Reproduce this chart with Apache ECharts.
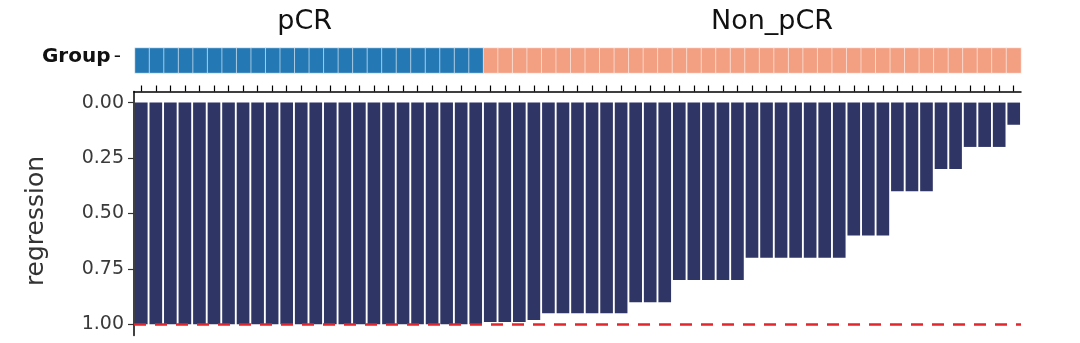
<!DOCTYPE html>
<html><head><meta charset="utf-8">
<script src="https://cdn.jsdelivr.net/npm/echarts@6/dist/echarts.min.js"></script>
<style>html,body{margin:0;padding:0;background:#fff}#c{width:1080px;height:343px}</style>
</head><body><div id="c"></div>
<script>
const samples = ['S01','S02','S03','S04','S05','S06','S07','S08','S09','S10',
  'S11','S12','S13','S14','S15','S16','S17','S18','S19','S20',
  'S21','S22','S23','S24','S25','S26','S27','S28','S29','S30',
  'S31','S32','S33','S34','S35','S36','S37','S38','S39','S40',
  'S41','S42','S43','S44','S45','S46','S47','S48','S49','S50',
  'S51','S52','S53','S54','S55','S56','S57','S58','S59','S60','S61'];
const groups = ['pCR','pCR','pCR','pCR','pCR','pCR','pCR','pCR','pCR','pCR',
  'pCR','pCR','pCR','pCR','pCR','pCR','pCR','pCR','pCR','pCR',
  'pCR','pCR','pCR','pCR',
  'Non_pCR','Non_pCR','Non_pCR','Non_pCR','Non_pCR','Non_pCR','Non_pCR','Non_pCR','Non_pCR','Non_pCR',
  'Non_pCR','Non_pCR','Non_pCR','Non_pCR','Non_pCR','Non_pCR','Non_pCR','Non_pCR','Non_pCR','Non_pCR',
  'Non_pCR','Non_pCR','Non_pCR','Non_pCR','Non_pCR','Non_pCR','Non_pCR','Non_pCR','Non_pCR','Non_pCR',
  'Non_pCR','Non_pCR','Non_pCR','Non_pCR','Non_pCR','Non_pCR','Non_pCR'];
const regression = [1,1,1,1,1,1,1,1,1,1,
  1,1,1,1,1,1,1,1,1,1,
  1,1,1,1,
  0.99,0.99,0.99,0.98,
  0.95,0.95,0.95,0.95,0.95,0.95,
  0.9,0.9,0.9,
  0.8,0.8,0.8,0.8,0.8,
  0.7,0.7,0.7,0.7,0.7,0.7,0.7,
  0.6,0.6,0.6,
  0.4,0.4,0.4,
  0.3,0.3,
  0.2,0.2,0.2,
  0.1];
const yTicks = [0, 0.25, 0.5, 0.75, 1];
const groupNames = ['pCR', 'Non_pCR'];
const groupColors = ['#2479B5', '#F29F82'];
const cutoff = 1;

const chart = echarts.init(document.getElementById('c'), null, {renderer: 'canvas'});
const FONT = 'DejaVu Sans';
chart.setOption({
  animation: false,
  backgroundColor: '#fff',
  grid: [
    {left: 134, right: 59, top: 91.5, bottom: 7.6},
    {left: 135, right: 59, top: 48, height: 25}
  ],
  xAxis: [
    {gridIndex: 0, type: 'category', data: samples, position: 'top', boundaryGap: true,
     axisLine: {show: true, onZero: false, lineStyle: {color: '#000', width: 1.5}},
     axisTick: {show: true, alignWithLabel: true, interval: 0, length: 6, lineStyle: {color: '#000', width: 1.2}},
     axisLabel: {show: false}, splitLine: {show: false}},
    {gridIndex: 1, type: 'category', data: samples, show: false}
  ],
  yAxis: [
    {gridIndex: 0, type: 'value', inverse: true, min: -0.05, max: 1.05,
     axisLine: {show: true, onZero: false, lineStyle: {color: '#000', width: 1.5}},
     axisTick: {show: true, length: 6, customValues: yTicks, lineStyle: {color: '#333', width: 1.2}},
     axisLabel: {show: true, customValues: yTicks, formatter: v => v.toFixed(2),
       fontFamily: FONT, fontSize: 19, color: '#3a3a3a', margin: 10},
     splitLine: {show: false}},
    {gridIndex: 1, type: 'category', data: ['Group'],
     axisLine: {show: false}, axisTick: {show: false}, splitLine: {show: false},
     axisLabel: {margin: 14, formatter: '{b|Group} {n|-}', padding: [0, 0, 8, 0],
       rich: {b: {fontFamily: FONT, fontWeight: 'bold', fontSize: 20, color: '#111'},
              n: {fontFamily: FONT, fontSize: 20, color: '#111'}}}}
  ],
  visualMap: {type: 'piecewise', show: false, seriesIndex: 1, dimension: 2,
    pieces: [{value: 0, color: groupColors[0]}, {value: 1, color: groupColors[1]}]},
  series: [
    {type: 'bar', xAxisIndex: 0, yAxisIndex: 0, data: regression, barWidth: '87%',
     itemStyle: {color: '#2F3564'},
     markLine: {symbol: 'none', silent: true, label: {show: false},
       lineStyle: {type: [12, 9], color: '#E3262B', width: 2.5},
       data: [{yAxis: cutoff}]}},
    {type: 'heatmap', xAxisIndex: 1, yAxisIndex: 1,
     data: groups.map((g, i) => [i, 0, groupNames.indexOf(g)]),
     itemStyle: {borderColor: 'rgba(255,255,255,0.55)', borderWidth: 1}}
  ],
  graphic: [
    {type: 'text', x: 304.7, y: 21.5, style: {text: 'pCR', font: '27px "DejaVu Sans"', fill: '#111', align: 'center', verticalAlign: 'middle'}},
    {type: 'text', x: 772, y: 21.5, style: {text: 'Non_pCR', font: '27px "DejaVu Sans"', fill: '#111', align: 'center', verticalAlign: 'middle'}},
    {type: 'text', x: 36, y: 221, rotation: Math.PI / 2, style: {text: 'regression', font: '25px "DejaVu Sans"', fill: '#333', align: 'center', verticalAlign: 'middle'}}
  ]
});
</script></body></html>
